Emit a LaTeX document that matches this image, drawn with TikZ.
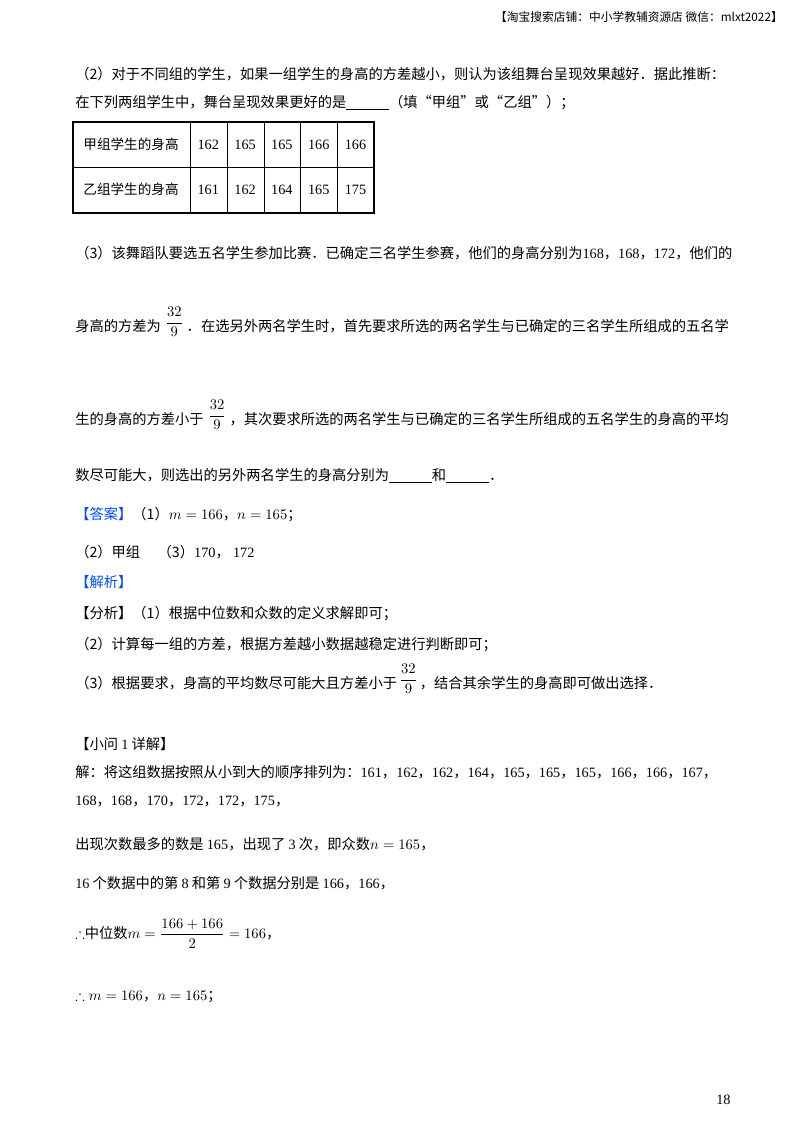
\documentclass[tikz,border=0pt]{standalone}
\usepackage{amsmath,amssymb}
\usepackage{fontspec}
\usetikzlibrary{calc}
\setmainfont{Noto Sans CJK SC}
\newfontfamily\numf{Liberation Serif}
\begin{document}
\begin{tikzpicture}[x=0.75pt,y=-0.75pt,
  t/.style={anchor=base west,inner sep=0pt,font=\fontsize{10.7}{12}\selectfont},
  fr/.style={anchor=west,inner sep=0pt,font=\fontsize{11}{13}\selectfont},
  blue/.style={text=blue!70!cyan}]
\useasboundingbox[fill=white] (0,0) rectangle (800,1132);
\node[anchor=base east,inner sep=0pt,font=\fontsize{8.8}{10}\selectfont] (hd) at (783,21) {【淘宝搜索店铺：中小学教辅资源店\ 微信：mlxt2022】};
\node[t] (l1) at (75,79) {（2）对于不同组的学生，如果一组学生的身高的方差越小，则认为该组舞台呈现效果越好．据此推断：};
\node[t] (l2) at (75,107) {在下列两组学生中，舞台呈现效果更好的是\underline{\hspace{3em}}（填“甲组”或“乙组”）；};
% table
\draw[line width=0.8pt] (73,122) rectangle (374,213);
\draw (73,167) -- (374,167);
\foreach \x in {190,227,264,300,337} \draw (\x,122) -- (\x,213);
\node[t,anchor=base,font=\fontsize{10.2}{12}\selectfont] (a0) at (131,149) {甲组学生的身高};
\node[t,anchor=base,font=\fontsize{10.2}{12}\selectfont] (b0) at (131,194) {乙组学生的身高};
\foreach \v [count=\i] in {162,165,165,166,166} \node[t,anchor=base] (a\i) at ({171.5+\i*36.8},149) {\numf \v};
\foreach \v [count=\i] in {161,162,164,165,175} \node[t,anchor=base] (b\i) at ({171.5+\i*36.8},194) {\numf \v};
\node[t] (l3) at (75,258) {（3）该舞蹈队要选五名学生参加比赛．已确定三名学生参赛，他们的身高分别为{\numf 168}，{\numf 168}，{\numf 172}，他们的};
\node[t] (l4) at (75,331) {身高的方差为};
\node[fr] (f1) at ($(l4.base east)+(4,-9)$) {$\dfrac{32}{9}$};
\node[t] (l4b) at ($(f1.east |- l4.base)+(3,0)$) {．在选另外两名学生时，首先要求所选的两名学生与已确定的三名学生所组成的五名学};
\node[t] (l5) at (75,424) {生的身高的方差小于};
\node[fr] (f2) at ($(l5.base east)+(4,-9)$) {$\dfrac{32}{9}$};
\node[t] (l5b) at ($(f2.east |- l5.base)+(3,0)$) {，其次要求所选的两名学生与已确定的三名学生所组成的五名学生的身高的平均};
\node[t] (l6) at (75,480) {数尽可能大，则选出的另外两名学生的身高分别为\underline{\hspace{3em}}和\underline{\hspace{3em}}．};
\node[t] (l7) at (75,519) {{\color{blue!70!cyan}【答案】}（1）$m=166$，$n=165$；};
\node[t] (l8) at (75,557) {（2）甲组\quad\ （3）{\numf 170}，\ {\numf 172}};
\node[t,blue] (l9) at (75,587) {【解析】};
\node[t] (l10) at (75,618) {【分析】（1）根据中位数和众数的定义求解即可；};
\node[t] (l11) at (75,649) {（2）计算每一组的方差，根据方差越小数据越稳定进行判断即可；};
\node[t] (l12) at (75,688) {（3）根据要求，身高的平均数尽可能大且方差小于};
\node[fr] (f3) at ($(l12.base east)+(2,-9)$) {$\dfrac{32}{9}$};
\node[t] (l12b) at ($(f3.east |- l12.base)+(2,0)$) {，结合其余学生的身高即可做出选择．};
\node[t] (l13) at (75,749) {【小问 {\numf 1} 详解】};
\node[t] (l14) at (75,777) {解：将这组数据按照从小到大的顺序排列为：{\numf 161}，{\numf 162}，{\numf 162}，{\numf 164}，{\numf 165}，{\numf 165}，{\numf 165}，{\numf 166}，{\numf 166}，{\numf 167}，};
\node[t] (l15) at (75,805) {{\numf 168}，{\numf 168}，{\numf 170}，{\numf 172}，{\numf 172}，{\numf 175}，};
\node[t] (l16) at (75,849) {出现次数最多的数是 {\numf 165}，出现了 {\numf 3} 次，即众数$n=165$，};
\node[t] (l17) at (75,888) {{\numf 16} 个数据中的第 {\numf 8} 和第 {\numf 9} 个数据分别是 {\numf 166}，{\numf 166}，};
\node[t] (l18) at (75,938) {$\therefore$中位数$m=\dfrac{166+166}{2}=166$，};
\node[t] (l19) at (75,1000) {$\therefore m=166$，$n=165$；};
\node[t] (pg) at (716,1104) {\numf 18};
\end{tikzpicture}
\end{document}
